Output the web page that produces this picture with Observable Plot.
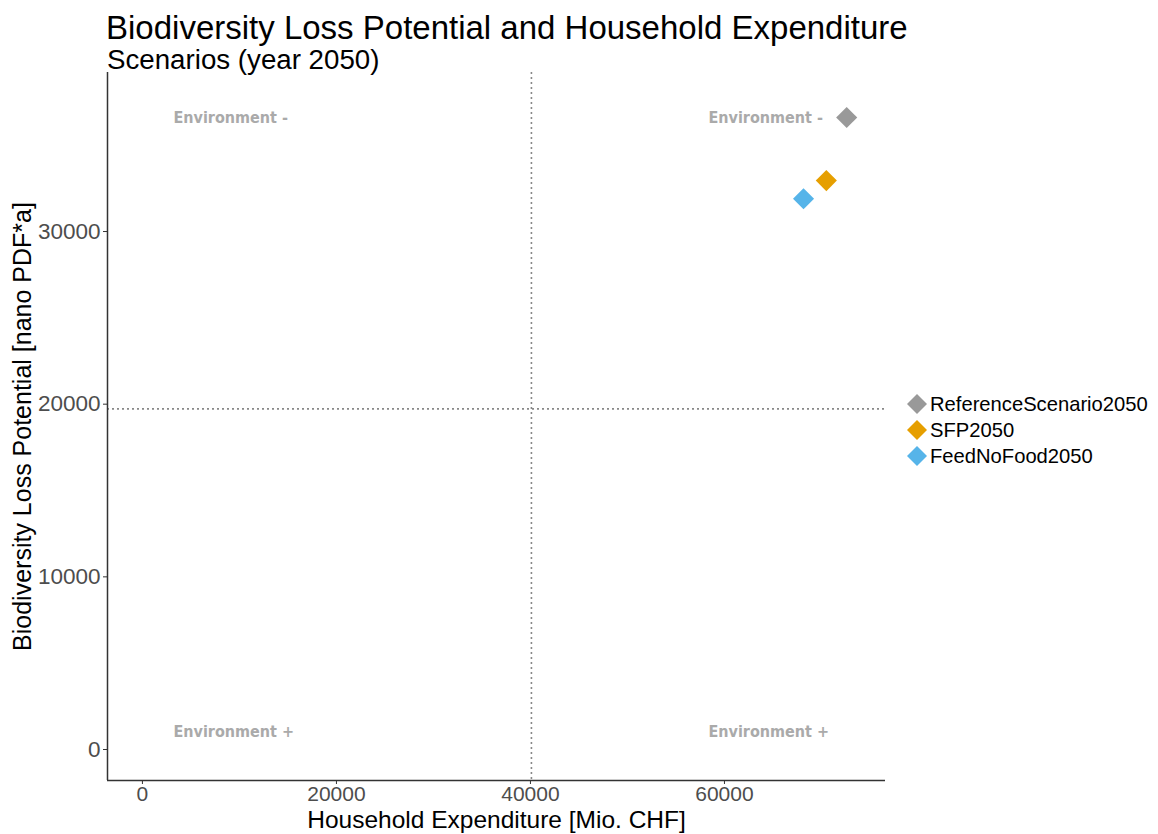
<!DOCTYPE html>
<html>
<head>
<meta charset="utf-8">
<script src="https://cdn.jsdelivr.net/npm/d3@7"></script>
<script src="https://cdn.jsdelivr.net/npm/@observablehq/plot@0.6"></script>
<style>
  html, body { margin: 0; padding: 0; background: #fff; }
  #wrap { position: relative; width: 1158px; height: 834px; font-family: "Liberation Sans", Arial, sans-serif; }
  #title { position: absolute; left: 106px; top: 9px; font-size: 33px; line-height: 38px; color: #000; white-space: nowrap; }
  #subtitle { position: absolute; left: 107px; top: 44px; font-size: 27.7px; line-height: 32px; color: #000; white-space: nowrap; }
  #chart { position: absolute; left: 0; top: 0; }
  #legend { position: absolute; left: 906px; top: 391px; font-size: 20.2px; color: #000; }
  .li { display: flex; align-items: center; height: 26px; }
  .li svg { margin-right: 2px; }
</style>
</head>
<body>
<div id="wrap">
  <div id="chart"></div>
  <div id="title"></div>
  <div id="subtitle"></div>
  <div id="legend"></div>
</div>
<script>
// ---- data ----
const titleText = "Biodiversity Loss Potential and Household Expenditure";
const subtitleText = "Scenarios (year 2050)";
const xLabel = "Household Expenditure [Mio. CHF]";
const yLabel = "Biodiversity Loss Potential [nano PDF*a]";

const scenarios = ["ReferenceScenario2050", "SFP2050", "FeedNoFood2050"];
const expenditure = [72600, 70500, 68150];
const biodiversity = [36600, 32950, 31900];
const colors = ["#999999", "#E69F00", "#56B4E9"];

const xTicks = [0, 20000, 40000, 60000];
const yTicks = [0, 10000, 20000, 30000];
const xDomain = [-3600, 76600];
const yDomain = [-1795, 39210];

const vLine = [40100];
const hLine = [19730];

const quadLabels = ["Environment -", "Environment -", "Environment +", "Environment +"];
const quadX = [3200, 58350, 3200, 58350];
const quadY = [36600, 36600, 1040, 1040];

// ---- build ----
document.getElementById("title").textContent = titleText;
document.getElementById("subtitle").textContent = subtitleText;

const points = scenarios.map((s, i) => ({ s, x: expenditure[i], y: biodiversity[i] }));
const quads = quadLabels.map((t, i) => ({ t, x: quadX[i], y: quadY[i] }));

const fmt = d3.format("d");
const plot = Plot.plot({
  width: 1158,
  height: 834,
  marginLeft: 107,
  marginRight: 273,
  marginTop: 72,
  marginBottom: 54,
  style: { fontFamily: "Liberation Sans, Arial, sans-serif", background: "#fff" },
  x: { domain: xDomain },
  y: { domain: yDomain },
  color: { domain: scenarios, range: colors },
  marks: [
    Plot.ruleX(vLine, { stroke: "#888", strokeWidth: 1.6, strokeDasharray: "2,3" }),
    Plot.ruleY(hLine, { stroke: "#888", strokeWidth: 1.6, strokeDasharray: "2,3" }),
    Plot.text(quads, { x: "x", y: "y", text: "t", textAnchor: "start", fill: "#aaaaaa",
      fontSize: 16, fontWeight: "bold", fontFamily: "DejaVu Sans Condensed, DejaVu Sans, sans-serif" }),
    Plot.dot(points, { x: "x", y: "y", fill: "s", symbol: "diamond2", r: 9.5, stroke: "none" }),
    Plot.ruleX([xDomain[0]], { stroke: "#333", strokeWidth: 1.5 }),
    Plot.ruleY([yDomain[0]], { stroke: "#333", strokeWidth: 1.5 }),
    Plot.axisX(xTicks, { tickSize: 4, tickFormat: fmt, fontSize: 21, fill: "#4d4d4d", stroke: "#333",
      tickPadding: 2, label: null }),
    Plot.axisY(yTicks, { tickSize: 4, tickFormat: fmt, fontSize: 22.5, fill: "#4d4d4d", stroke: "#333",
      tickPadding: 3, label: null }),
    Plot.text([xLabel], { frameAnchor: "bottom", dy: 47, text: d => d, fontSize: 24.5, fill: "#000", lineAnchor: "bottom" }),
    Plot.text([yLabel], { frameAnchor: "left", dx: -85, rotate: -90, textAnchor: "middle", text: d => d, fontSize: 25, fill: "#000" })
  ]
});
document.getElementById("chart").appendChild(plot);

// legend
const leg = document.getElementById("legend");
scenarios.forEach((s, i) => {
  const row = document.createElement("div");
  row.className = "li";
  row.innerHTML = `<svg width="22" height="22" viewBox="-11 -11 22 22"><path d="M0,-10L10,0L0,10L-10,0Z" fill="${colors[i]}"/></svg><span>${s}</span>`;
  leg.appendChild(row);
});
</script>
</body>
</html>
